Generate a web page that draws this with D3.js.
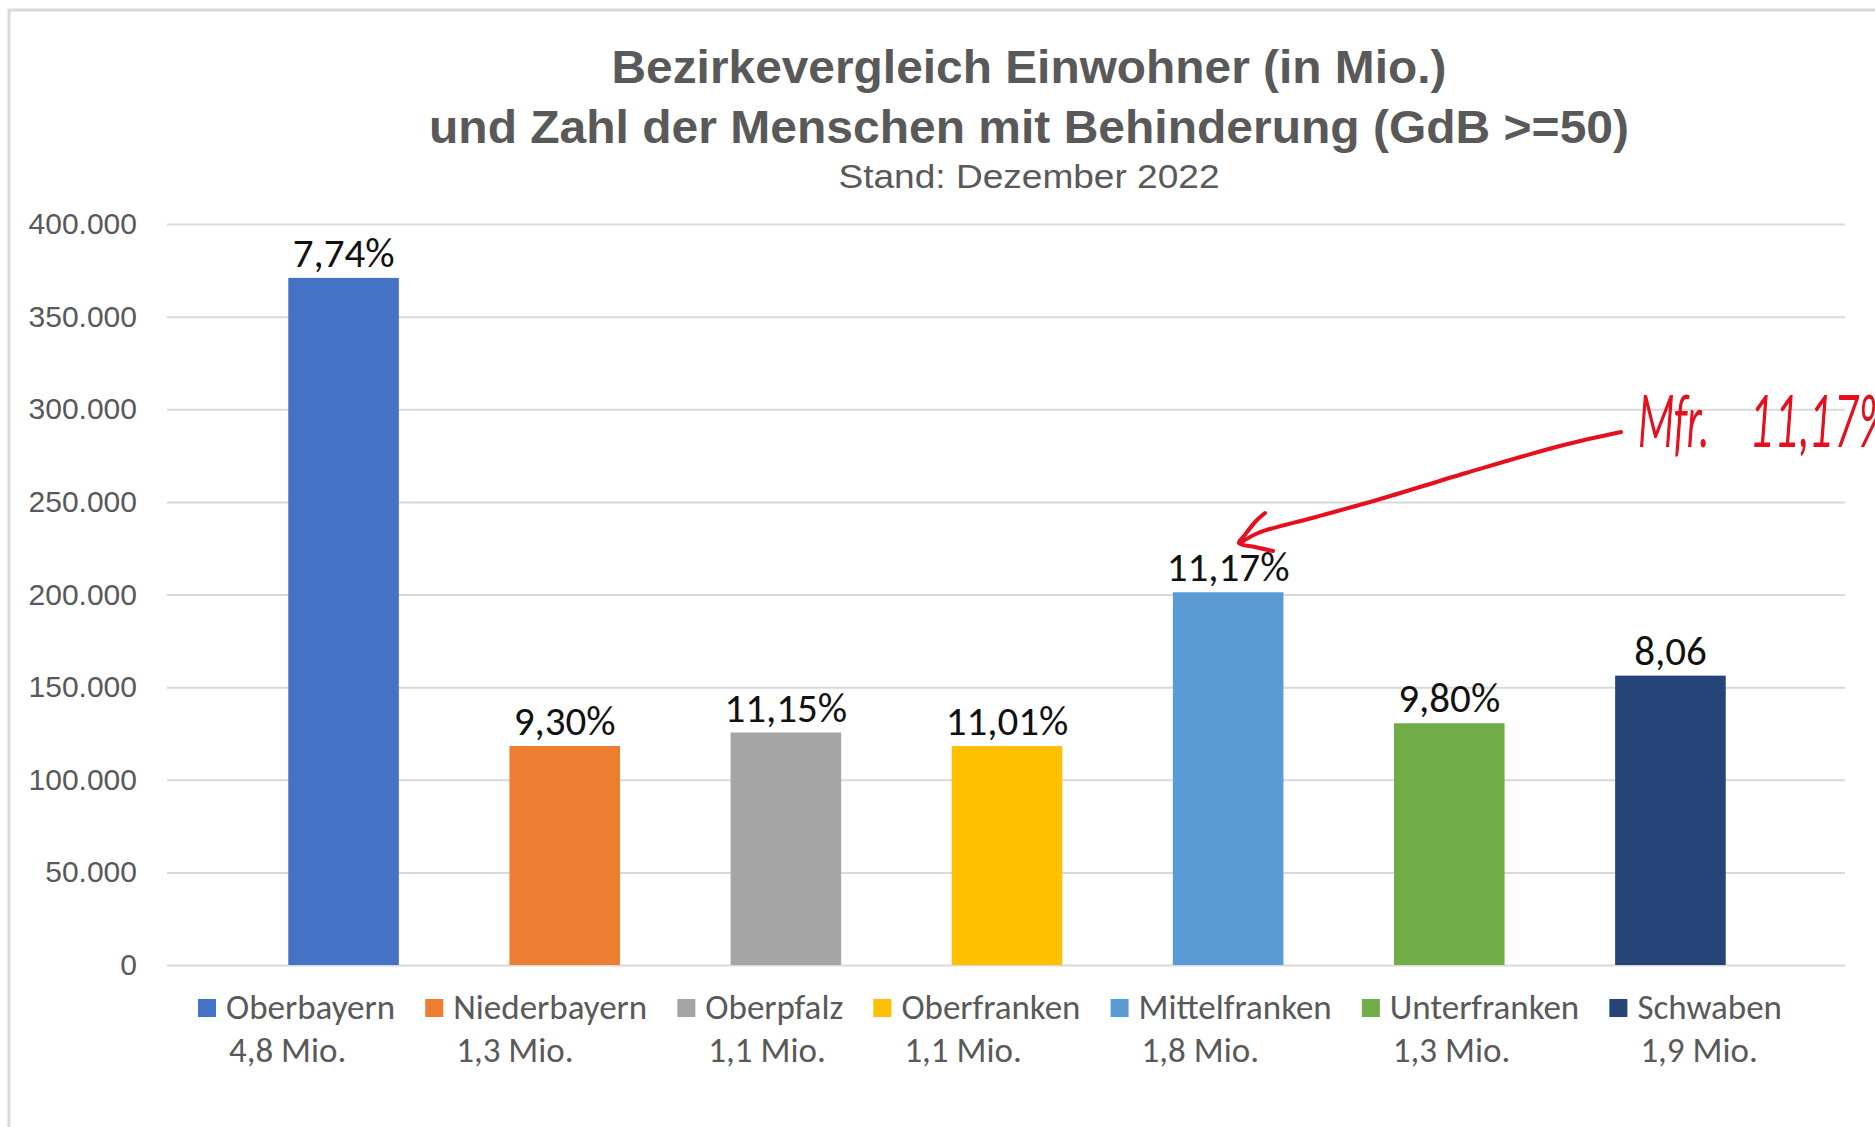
<!DOCTYPE html>
<html>
<head>
<meta charset="utf-8">
<script src="https://cdn.jsdelivr.net/npm/d3@7"></script>
<style>
  html, body { margin: 0; padding: 0; background: #fff; }
  svg { display: block; }
</style>
</head>
<body>
<svg id="chart" width="1875" height="1127"></svg>
<script>
// ---- data ----
const categories = ["Oberbayern", "Niederbayern", "Oberpfalz", "Oberfranken", "Mittelfranken", "Unterfranken", "Schwaben"];
const populations = ["4,8 Mio.", "1,3 Mio.", "1,1 Mio.", "1,1 Mio.", "1,8 Mio.", "1,3 Mio.", "1,9 Mio."];
const disabledCounts = [370900, 118200, 125500, 118200, 201200, 130500, 156200];
const shareLabels = ["7,74%", "9,30%", "11,15%", "11,01%", "11,17%", "9,80%", "8,06"];
const colors = ["#4472C4", "#ED7D31", "#A5A5A5", "#FFC000", "#5B9BD5", "#70AD47", "#264478"];
const yTicks = [0, 50000, 100000, 150000, 200000, 250000, 300000, 350000, 400000];
const titleLines = ["Bezirkevergleich Einwohner (in Mio.)", "und Zahl der Menschen mit Behinderung (GdB >=50)"];
const subtitle = "Stand: Dezember 2022";
const annotationWords = ["Mfr.", "11,17%"];

// ---- layout ----
const svg = d3.select("#chart");
const gridLeft = 167, gridRight = 1845;
const y = d3.scaleLinear().domain([0, 400000]).range([965, 224]);
const x = d3.scaleBand().domain(categories).range([233, 1781]).paddingInner(0.5).paddingOuter(0.25);

const labelFont = "Carlito, Lato, 'Open Sans', sans-serif";
const grey = "#595959";

// chart border
svg.append("path")
  .attr("d", "M9,1127 L9,10 L1875,10")
  .attr("fill", "none").attr("stroke", "#d9d9d9").attr("stroke-width", 3);

// title
const titleCx = 1029;
const titleSpecs = [
  { text: titleLines[0], y: 83, size: 46, weight: "bold", len: 835 },
  { text: titleLines[1], y: 143, size: 46, weight: "bold", len: 1200 },
  { text: subtitle, y: 188, size: 34, weight: "normal", len: 381 }
];
svg.append("g").selectAll("text").data(titleSpecs).join("text")
  .attr("x", titleCx).attr("y", d => d.y)
  .attr("text-anchor", "middle")
  .attr("font-family", "'Liberation Sans', Arial, sans-serif")
  .attr("font-size", d => d.size).attr("font-weight", d => d.weight)
  .attr("fill", grey)
  .attr("textLength", d => d.len).attr("lengthAdjust", "spacingAndGlyphs")
  .text(d => d.text);

// gridlines + y axis
const yAxis = d3.axisLeft(y).tickValues(yTicks)
  .tickFormat(d => d3.format(",")(d).replace(/,/g, "."))
  .tickSize(-(gridRight - gridLeft)).tickPadding(30);
const gy = svg.append("g").attr("transform", `translate(${gridLeft},0)`).call(yAxis);
gy.select(".domain").remove();
gy.selectAll(".tick line").attr("stroke", "#d9d9d9").attr("stroke-width", 2);
gy.selectAll(".tick text")
  .attr("font-family", "'Liberation Sans', Arial, sans-serif")
  .attr("font-size", 30).attr("fill", grey);

// bars
svg.append("g").selectAll("rect").data(categories).join("rect")
  .attr("x", d => x(d)).attr("width", x.bandwidth())
  .attr("y", (d, i) => y(disabledCounts[i]))
  .attr("height", (d, i) => y(0) - y(disabledCounts[i]))
  .attr("fill", (d, i) => colors[i]);

// data labels
svg.append("g").selectAll("text").data(categories).join("text")
  .attr("x", d => x(d) + x.bandwidth() / 2)
  .attr("y", (d, i) => y(disabledCounts[i]) - 11)
  .attr("text-anchor", "middle")
  .attr("font-family", labelFont).attr("font-size", 41)
  .attr("fill", "#111")
  .text((d, i) => shareLabels[i]);

// legend
const legend = svg.append("g");
const items = legend.selectAll("g").data(categories).join("g");
const legSize = 35;
items.append("rect").attr("width", 18).attr("height", 18).attr("y", 999)
  .attr("fill", (d, i) => colors[i]);
items.append("text").attr("class", "l1").attr("x", 28).attr("y", 1019)
  .attr("font-family", labelFont).attr("font-size", legSize).attr("fill", grey)
  .text(d => d);
items.append("text").attr("class", "l2").attr("x", 31).attr("y", 1062)
  .attr("font-family", labelFont).attr("font-size", legSize).attr("fill", grey)
  .text((d, i) => populations[i]);
const widths = [];
items.each(function () {
  const g = d3.select(this);
  const w1 = g.select(".l1").node().getComputedTextLength();
  const w2 = g.select(".l2").node().getComputedTextLength() + 3;
  widths.push(28 + Math.max(w1, w2));
});
const legStart = 198, legEnd = 1782;
const gap = (legEnd - legStart - d3.sum(widths)) / (categories.length - 1);
let cx = legStart;
items.each(function (d, i) {
  d3.select(this).attr("transform", `translate(${cx},0)`);
  cx += widths[i] + gap;
});

// handwritten annotation
const red = "#E50F1E";
const ann = svg.append("g").attr("fill", "none").attr("stroke", red)
  .attr("stroke-width", 4).attr("stroke-linecap", "round").attr("stroke-linejoin", "round");
const line = d3.line().curve(d3.curveCatmullRom);
ann.append("path").attr("d", line([[1621, 432], [1560, 446], [1466, 473], [1377, 500], [1312, 518], [1258, 533], [1242, 542]]));
ann.append("path").attr("d", line([[1265, 513], [1256, 521], [1244, 536], [1239, 543], [1255, 547], [1273, 551]]));
const sx = 0.6;
const annText = svg.append("text")
  .attr("transform", `translate(1638,446) scale(${sx},1)`)
  .attr("font-family", "Lato, sans-serif").attr("font-style", "italic").attr("font-weight", 300)
  .attr("font-size", 72).attr("fill", red).attr("stroke", red).attr("stroke-width", 2);
annText.append("tspan").attr("x", 0).text(annotationWords[0] + " ");
annText.append("tspan").attr("x", (1750 - 1638) / sx).text(annotationWords[1]);
</script>
</body>
</html>
